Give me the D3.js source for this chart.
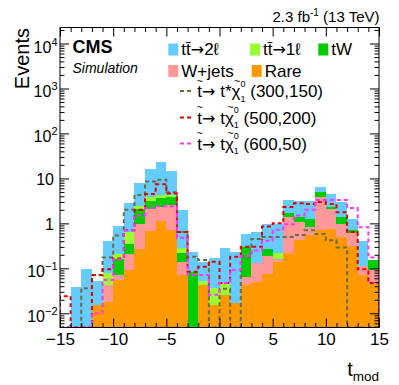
<!DOCTYPE html>
<html><head><meta charset="utf-8">
<script src="https://cdn.jsdelivr.net/npm/d3@7"></script>
<style>body{margin:0;background:#fff} text{font-family:"Liberation Sans",Arial,Helvetica,sans-serif;fill:#000}</style>
</head><body><svg id="c" width="399" height="385"></svg>
<script>
// ---- data (bins of width 1, lower edges from -15 to 14) ----
const binLow = d3.range(-15, 15);
const rare  = [0,0,0,0.015,0.018,0.055,0.092,0.276,0.67,1.12,0.72,0.071,0,0.042,0.015,0.026,0.017,0.043,0.05,0.075,0.14,0.22,0.42,0.54,0.72,0.74,0.51,0.31,0.071,0.045];
const wjets = [0,0,0,0,0.025,0.016,0.115,0.70,1.43,1.18,1.88,0.069,0,0,0,0,0,0.02,0.079,0.112,0.018,1.2,0.64,0.28,3.05,1.36,0.47,0.31,0.042,0.047];
const tW    = [0,0,0,0,0,0.087,0.149,1.12,1.1,1.36,1.2,0.074,0.082,0,0,0,0,0.237,0,0.08,0,0.26,0.36,0.44,1.13,0.26,0.44,0.08,0,0.061];
const tt1l  = [0,0,0,0,0.035,0.049,0.284,0.3,0.6,0.64,0.5,0.07,0,0.01,0.021,0.021,0,0,0,0,0.062,0,0,0,0,0,0,0,0,0];
const tt2l  = [0,0.038,0.095,0.038,0.322,0.663,2.16,5.4,12.6,18.7,10.3,1.72,0.148,0.084,0.13,0.243,0.213,0.29,0.50,0.713,0.76,1.62,1.78,1.94,1.6,2.14,1.58,0.56,0.297,0];
const sig300_150 = [0,0,0.036,0.07,0.175,0.54,2.0,4.3,8.5,9.3,4.9,0.64,0.18,0.153,0,0.035,0,0.18,0.45,0.5,0.5,0.5,0.55,0.7,0.58,0.42,0.29,0,0,0];
const sig500_200 = [0.024,0,0,0.071,0.095,0.166,0.7,2.0,4.5,7.4,4.6,0.64,0.084,0.108,0.14,0.047,0.18,0.3,0.3,0.85,1.0,2.3,2.8,2.7,3.0,2.7,1.76,0.64,0.095,0.047];
const sig600_50  = [0,0,0,0.01,0.055,0.158,0.7,1.5,2.2,2.4,2.4,0.48,0.071,0.071,0.026,0.047,0.092,0.187,0.25,0.41,0.72,0.95,1.5,2.0,3.3,3.3,3.3,2.2,0.82,0.175];
const xTickValues = [-15,-10,-5,0,5,10,15];
const yTickLabels = [[1e-2,"10","−2"],[1e-1,"10","−1"],[1,"1",""],[10,"10",""],[1e2,"10","2"],[1e3,"10","3"],[1e4,"10","4"]];

const stackSeries = [
  {name:"Rare", vals:rare, color:"#ff9900"},
  {name:"W+jets", vals:wjets, color:"#ff9999"},
  {name:"tW", vals:tW, color:"#00cc00"},
  {name:"tt1l", vals:tt1l, color:"#99ff33"},
  {name:"tt2l", vals:tt2l, color:"#66ccff"}
];
const sigSeries = [
  {vals:sig300_150, color:"#6b6b45"},
  {vals:sig500_200, color:"#e00000"},
  {vals:sig600_50, color:"#ff33ff"}
];

const L=60, R=379, T=27.5, B=327.5;
const ymin = 0.00483, ymax = 22700;
const x = d3.scaleLinear().domain([-15,15]).range([L,R]);
const y = d3.scaleLog().domain([ymin,ymax]).range([B,T]).clamp(true);
const svg = d3.select("#c");

svg.append("defs").append("clipPath").attr("id","clip")
  .append("rect").attr("x",L).attr("y",T).attr("width",R-L).attr("height",B-T);

const plot = svg.append("g").attr("clip-path","url(#clip)");

// stacked bars
binLow.forEach((b,i)=>{
  let c0 = 0;
  stackSeries.forEach(s=>{
    const v = s.vals[i];
    if (v>0){
      const c1 = c0+v;
      const y0 = y(Math.max(c0,ymin)), y1 = y(c1);
      plot.append("rect").attr("x",x(b)).attr("width",x(b+1)-x(b))
        .attr("y",y1).attr("height",Math.max(0,y0-y1))
        .attr("fill",s.color).attr("shape-rendering","crispEdges");
      c0 = c1;
    }
  });
});

// signal step lines
sigSeries.forEach(s=>{
  let p = `M${x(-15)},${B}`;
  s.vals.forEach((v,i)=>{ p += `V${y(Math.max(v,ymin))}H${x(binLow[i]+1)}`; });
  p += `V${B}`;
  plot.append("path").attr("d",p).attr("fill","none").attr("stroke",s.color)
    .attr("stroke-width",2).attr("stroke-dasharray","4,3");
});

// axes (inward ticks)
const minorX = d3.range(-15,16).filter(v=>v%5!==0);
const decades = [1e-2,1e-1,1,10,1e2,1e3,1e4];
const minorY = [];
for (let e=-3;e<=4;e++) for (let k=2;k<=9;k++){ const v=k*Math.pow(10,e); if(v>ymin && v<ymax) minorY.push(v); }
function styleAxis(g){ g.select(".domain").remove(); g.selectAll("line").attr("stroke","#000"); }

svg.append("g").attr("transform",`translate(0,${B})`)
  .call(d3.axisBottom(x).tickValues(xTickValues).tickSize(-9).tickPadding(5.5).tickFormat(d3.format("d")))
  .call(styleAxis).call(g=>g.selectAll("text").style("font-size","17px"));
svg.append("g").attr("transform",`translate(0,${B})`)
  .call(d3.axisBottom(x).tickValues(minorX).tickSize(-4.5).tickFormat("")).call(styleAxis);
svg.append("g").attr("transform",`translate(0,${T})`)
  .call(d3.axisTop(x).tickValues(xTickValues).tickSize(-9).tickFormat("")).call(styleAxis);
svg.append("g").attr("transform",`translate(0,${T})`)
  .call(d3.axisTop(x).tickValues(minorX).tickSize(-4.5).tickFormat("")).call(styleAxis);
svg.append("g").attr("transform",`translate(${L},0)`)
  .call(d3.axisLeft(y).tickValues(decades).tickSize(-9).tickFormat("")).call(styleAxis);
svg.append("g").attr("transform",`translate(${L},0)`)
  .call(d3.axisLeft(y).tickValues(minorY).tickSize(-4.5).tickFormat("")).call(styleAxis);
svg.append("g").attr("transform",`translate(${R},0)`)
  .call(d3.axisRight(y).tickValues(decades).tickSize(-9).tickFormat("")).call(styleAxis);
svg.append("g").attr("transform",`translate(${R},0)`)
  .call(d3.axisRight(y).tickValues(minorY).tickSize(-4.5).tickFormat("")).call(styleAxis);

// y tick labels
yTickLabels.forEach(([v,base,sup])=>{
  const t = svg.append("text").attr("text-anchor","end").style("font-size","16px");
  if (sup){
    t.attr("x",57.5).attr("y",y(v)+9);
    t.append("tspan").text(base);
    t.append("tspan").attr("dy",-7).style("font-size","11px").text(sup);
  } else {
    t.attr("x",54).attr("y",y(v)+6.5).text(base);
  }
});

// frame
svg.append("rect").attr("x",L).attr("y",T).attr("width",R-L).attr("height",B-T)
  .attr("fill","none").attr("stroke","#000").attr("stroke-width",1);

// titles
svg.append("text").attr("transform","translate(29,28) rotate(-90)").attr("text-anchor","end")
  .style("font-size","20px").text("Events");
const xt = svg.append("text").attr("x",379).attr("y",376).attr("text-anchor","end").style("font-size","20px");
xt.append("tspan").text("t");
xt.append("tspan").attr("dy",4.5).style("font-size","13.5px").text("mod");

svg.append("text").attr("x",72.5).attr("y",53.3).style("font-size","18px").style("font-weight","bold").text("CMS");
svg.append("text").attr("x",72.5).attr("y",73).style("font-size","14px").style("font-style","italic").text("Simulation");
const lumi = svg.append("text").attr("x",379.5).attr("y",21.5).attr("text-anchor","end").style("font-size","15px");
lumi.append("tspan").text("2.3 fb");
lumi.append("tspan").attr("dy",-6).style("font-size","10px").text("-1");
lumi.append("tspan").attr("dy",6).text("\u00a0(13 TeV)");

// legend
const lg = svg.append("g").style("font-size","17px");
const arrowFont = "'DejaVu Sans', sans-serif";
function measure(txt, fs, family){
  const t = lg.append("text").style("font-size",fs+"px").text(txt);
  if (family) t.style("font-family",family);
  const w = t.node().getComputedTextLength(); t.remove(); return w;
}
function boxEntry(bx, by, color, parts){
  lg.append("rect").attr("x",bx).attr("y",by-11.5).attr("width",10).attr("height",12).attr("fill",color);
  const t = lg.append("text").attr("x",bx+13).attr("y",by);
  parts.forEach(p=>{
    const s = t.append("tspan").text(p.t);
    if (p.arrow) s.style("font-family",arrowFont).style("font-size","16px");
  });
}
boxEntry(168.3,55,"#66ccff",[{t:"tt\u0304"},{t:"\u2192",arrow:true},{t:"2\u2113"}]);
boxEntry(250,55,"#99ff33",[{t:"tt\u0304"},{t:"\u2192",arrow:true},{t:"1\u2113"}]);
boxEntry(318.3,55,"#00cc00",[{t:"tW"}]);
boxEntry(168.3,76.5,"#ff9999",[{t:"W+jets"}]);
boxEntry(251.7,76.5,"#ff9900",[{t:"Rare"}]);

const wt = measure("t",17), wchi = measure("\u03c7",17), wtil = measure("~",11), wzero = measure("0",9);
function sigEntry(ly, color, star, mass){
  lg.append("line").attr("x1",180).attr("x2",193).attr("y1",ly).attr("y2",ly)
    .attr("stroke",color).attr("stroke-width",2).attr("stroke-dasharray","4,3");
  const t = lg.append("text").attr("x",196.5).attr("y",ly+6);
  const TH = 12.5;
  // t with tilde
  t.append("tspan").text("t");
  t.append("tspan").attr("dx",-(wt/2+wtil/2)).attr("dy",-TH).style("font-size","11px").text("~");
  t.append("tspan").attr("dx",-(wtil/2-wt/2)).attr("dy",TH).style("font-family",arrowFont).style("font-size","16px").text("\u2192");
  t.append("tspan").text("\u00a0t"+(star?"*":"")+"\u03c7");
  t.append("tspan").attr("dx",-(wchi/2+wtil/2)+1).attr("dy",-TH).style("font-size","11px").text("~");
  t.append("tspan").attr("dx",-(wtil/2-wchi/2)-1).attr("dy",TH-10.5).style("font-size","9px").text("0");
  t.append("tspan").attr("dx",-wzero).attr("dy",15).style("font-size","9px").text("1");
  t.append("tspan").attr("dy",-4.5).text("\u00a0"+mass);
}
sigEntry(91,"#6b6b45",true,"(300,150)");
sigEntry(117.5,"#e00000",false,"(500,200)");
sigEntry(143.5,"#ff33ff",false,"(600,50)");
</script>
</body></html>
